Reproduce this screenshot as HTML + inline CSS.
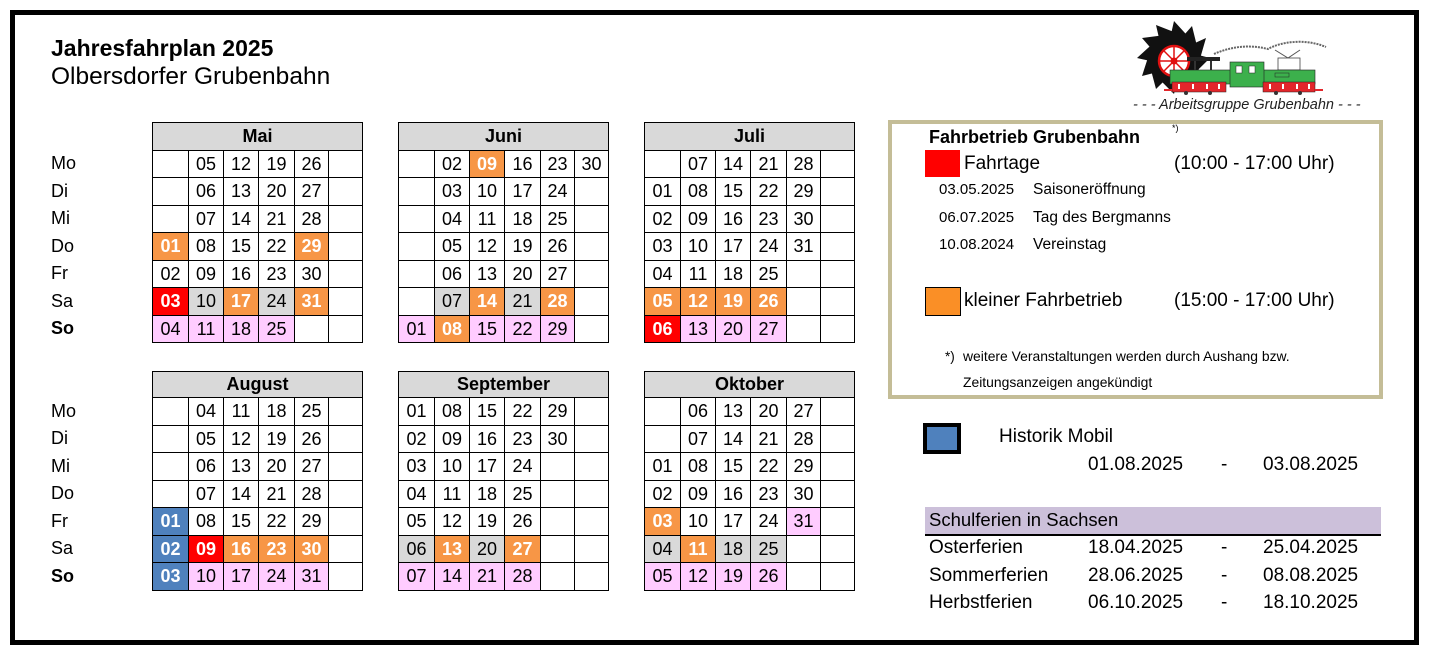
<!DOCTYPE html>
<html><head><meta charset="utf-8">
<style>
*{box-sizing:border-box}
body{margin:0;width:1431px;height:659px;background:#fff;position:relative;overflow:hidden;font-family:"Liberation Sans",sans-serif;color:#000}
.a{position:absolute;line-height:1;white-space:nowrap}
.frame{position:absolute;left:10px;top:10px;width:1409px;height:635px;border:5px solid #000}
.t{position:absolute;display:grid;grid-template-columns:35px 34px 34px 35px 33px 33px;gap:1px;background:#000;padding:1px;width:211px}
.u{top:122px;grid-template-rows:27px 26px 27px 26px 27px 26px 27px 26px}
.d{top:371px;grid-template-rows:25px 27px 26px 27px 26px 27px 26px 27px}
.t>i{font-style:normal;background:#fff;display:flex;align-items:center;justify-content:center;font-size:18px}
.t>i.h{grid-column:1/-1;background:#d9d9d9;font-weight:bold}
.t>i.o{background:#F79646;color:#fff;font-weight:bold}
.t>i.r{background:#FF0000;color:#fff;font-weight:bold}
.t>i.b{background:#4F81BD;color:#fff;font-weight:bold}
.t>i.g{background:#D9D9D9}
.t>i.p{background:#FFCCFF}
.l{position:absolute;left:51px;display:grid;font-size:18px}
.l>i{font-style:normal;display:flex;align-items:center}
.lu{top:150px;grid-template-rows:27px 28px 27px 28px 27px 28px 27px}
.ld{top:397px;grid-template-rows:28px 27px 28px 27px 28px 27px 28px}
</style></head><body>
<div class="frame"></div>

<div class="a" style="left:51px;top:37px;font-size:23px;font-weight:bold">Jahresfahrplan 2025</div>
<div class="a" style="left:51px;top:65px;font-size:24.5px">Olbersdorfer Grubenbahn</div>

<div class="l lu"><i>Mo</i><i>Di</i><i>Mi</i><i>Do</i><i>Fr</i><i>Sa</i><i><b>So</b></i></div>
<div class="l ld"><i>Mo</i><i>Di</i><i>Mi</i><i>Do</i><i>Fr</i><i>Sa</i><i><b>So</b></i></div>

<div class="t u" style="left:152px">
<i class="h">Mai</i>
<i></i><i>05</i><i>12</i><i>19</i><i>26</i><i></i>
<i></i><i>06</i><i>13</i><i>20</i><i>27</i><i></i>
<i></i><i>07</i><i>14</i><i>21</i><i>28</i><i></i>
<i class="o">01</i><i>08</i><i>15</i><i>22</i><i class="o">29</i><i></i>
<i>02</i><i>09</i><i>16</i><i>23</i><i>30</i><i></i>
<i class="r">03</i><i class="g">10</i><i class="o">17</i><i class="g">24</i><i class="o">31</i><i></i>
<i class="p">04</i><i class="p">11</i><i class="p">18</i><i class="p">25</i><i></i><i></i>
</div>

<div class="t u" style="left:398px">
<i class="h">Juni</i>
<i></i><i>02</i><i class="o">09</i><i>16</i><i>23</i><i>30</i>
<i></i><i>03</i><i>10</i><i>17</i><i>24</i><i></i>
<i></i><i>04</i><i>11</i><i>18</i><i>25</i><i></i>
<i></i><i>05</i><i>12</i><i>19</i><i>26</i><i></i>
<i></i><i>06</i><i>13</i><i>20</i><i>27</i><i></i>
<i></i><i class="g">07</i><i class="o">14</i><i class="g">21</i><i class="o">28</i><i></i>
<i class="p">01</i><i class="o">08</i><i class="p">15</i><i class="p">22</i><i class="p">29</i><i></i>
</div>

<div class="t u" style="left:644px">
<i class="h">Juli</i>
<i></i><i>07</i><i>14</i><i>21</i><i>28</i><i></i>
<i>01</i><i>08</i><i>15</i><i>22</i><i>29</i><i></i>
<i>02</i><i>09</i><i>16</i><i>23</i><i>30</i><i></i>
<i>03</i><i>10</i><i>17</i><i>24</i><i>31</i><i></i>
<i>04</i><i>11</i><i>18</i><i>25</i><i></i><i></i>
<i class="o">05</i><i class="o">12</i><i class="o">19</i><i class="o">26</i><i></i><i></i>
<i class="r">06</i><i class="p">13</i><i class="p">20</i><i class="p">27</i><i></i><i></i>
</div>

<div class="t d" style="left:152px">
<i class="h">August</i>
<i></i><i>04</i><i>11</i><i>18</i><i>25</i><i></i>
<i></i><i>05</i><i>12</i><i>19</i><i>26</i><i></i>
<i></i><i>06</i><i>13</i><i>20</i><i>27</i><i></i>
<i></i><i>07</i><i>14</i><i>21</i><i>28</i><i></i>
<i class="b">01</i><i>08</i><i>15</i><i>22</i><i>29</i><i></i>
<i class="b">02</i><i class="r">09</i><i class="o">16</i><i class="o">23</i><i class="o">30</i><i></i>
<i class="b">03</i><i class="p">10</i><i class="p">17</i><i class="p">24</i><i class="p">31</i><i></i>
</div>

<div class="t d" style="left:398px">
<i class="h">September</i>
<i>01</i><i>08</i><i>15</i><i>22</i><i>29</i><i></i>
<i>02</i><i>09</i><i>16</i><i>23</i><i>30</i><i></i>
<i>03</i><i>10</i><i>17</i><i>24</i><i></i><i></i>
<i>04</i><i>11</i><i>18</i><i>25</i><i></i><i></i>
<i>05</i><i>12</i><i>19</i><i>26</i><i></i><i></i>
<i class="g">06</i><i class="o">13</i><i class="g">20</i><i class="o">27</i><i></i><i></i>
<i class="p">07</i><i class="p">14</i><i class="p">21</i><i class="p">28</i><i></i><i></i>
</div>

<div class="t d" style="left:644px">
<i class="h">Oktober</i>
<i></i><i>06</i><i>13</i><i>20</i><i>27</i><i></i>
<i></i><i>07</i><i>14</i><i>21</i><i>28</i><i></i>
<i>01</i><i>08</i><i>15</i><i>22</i><i>29</i><i></i>
<i>02</i><i>09</i><i>16</i><i>23</i><i>30</i><i></i>
<i class="o">03</i><i>10</i><i>17</i><i>24</i><i class="p">31</i><i></i>
<i class="g">04</i><i class="o">11</i><i class="g">18</i><i class="g">25</i><i></i><i></i>
<i class="p">05</i><i class="p">12</i><i class="p">19</i><i class="p">26</i><i></i><i></i>
</div>

<!-- Logo -->
<svg class="a" style="left:1130px;top:20px" width="240" height="80" viewBox="0 0 240 80">
 <g transform="translate(0,-2)">
 <polygon fill="#111" points="80,40 68.5,51.4 75,58 59.5,62.1 62,71 46.3,66.9 44,76 32.6,64.5 26,71 21.9,55.5 12,58 17.1,42.3 7,40 19.5,28.6 12,20 28.5,17.9 26,7 41.7,13.1 44,3 55.4,15.5 62,8 66.1,24.5 76,20 70.9,37.6"/>
 </g>
 <circle cx="44" cy="41" r="15" fill="#fff" stroke="#e01010" stroke-width="2.5"/>
 <g stroke="#e01010" stroke-width="1.5">
  <line x1="29" y1="41" x2="59" y2="41"/><line x1="44" y1="26" x2="44" y2="56"/>
  <line x1="33.4" y1="30.4" x2="54.6" y2="51.6"/><line x1="33.4" y1="51.6" x2="54.6" y2="30.4"/>
 </g>
 <circle cx="44" cy="41" r="3.5" fill="#e01010"/>
 <path d="M84,34 C100,27 118,24 138,29 C150,22 175,18 196,27" fill="none" stroke="#666" stroke-width="2" stroke-dasharray="2 1"/>
 <path d="M145,30 L158,38 L170,30" fill="none" stroke="#555" stroke-width="1"/>
 <rect x="148" y="38" width="22" height="12" fill="#fff" stroke="#444" stroke-width="0.8"/>
 <rect x="57" y="37" width="33" height="4" fill="#222"/>
 <rect x="64" y="41" width="2" height="9" fill="#333"/>
 <rect x="80" y="41" width="2" height="9" fill="#333"/>
 <rect x="40" y="50" width="62" height="14" fill="#3cb04c" stroke="#222" stroke-width="0.6"/>
 <rect x="133" y="50" width="52" height="14" fill="#3cb04c" stroke="#222" stroke-width="0.6"/>
 <rect x="100" y="42" width="34" height="25" fill="#3cb04c" stroke="#222" stroke-width="0.6"/>
 <rect x="106" y="46" width="6" height="7" fill="#fff" stroke="#222" stroke-width="0.5"/>
 <rect x="119" y="46" width="6" height="7" fill="#fff" stroke="#222" stroke-width="0.5"/>
 <rect x="145" y="53" width="14" height="4" fill="#3cb04c" stroke="#222" stroke-width="0.5"/>
 <rect x="42" y="62" width="54" height="10" fill="#e3262b" stroke="#222" stroke-width="0.5"/>
 <rect x="133" y="62" width="52" height="10" fill="#e3262b" stroke="#222" stroke-width="0.5"/>
 <g fill="#fff"><rect x="48" y="64" width="2" height="5"/><rect x="62" y="64" width="2" height="5"/><rect x="76" y="64" width="2" height="5"/><rect x="88" y="64" width="2" height="5"/><rect x="139" y="64" width="2" height="5"/><rect x="152" y="64" width="2" height="5"/><rect x="166" y="64" width="2" height="5"/><rect x="178" y="64" width="2" height="5"/></g>
 <g fill="#333"><circle cx="56" cy="73" r="2"/><circle cx="80" cy="73" r="2"/><circle cx="146" cy="73" r="2"/><circle cx="170" cy="73" r="2"/></g>
 <line x1="34" y1="70" x2="42" y2="70" stroke="#e3262b" stroke-width="2"/>
 <line x1="185" y1="70" x2="193" y2="70" stroke="#e3262b" stroke-width="2"/>
</svg>
<div class="a" style="left:1133px;top:98px;font-size:14.5px;font-style:italic;color:#222">- - - Arbeitsgruppe Grubenbahn - - -</div>

<!-- Legend box -->
<div class="a" style="left:888px;top:120px;width:495px;height:279px;border:4px solid #C4BD97"></div>
<div class="a" style="left:929px;top:128px;font-size:18px;font-weight:bold">Fahrbetrieb Grubenbahn</div>
<div class="a" style="left:1172px;top:124px;font-size:9px">*)</div>
<div class="a" style="left:925px;top:150px;width:35px;height:27px;background:#FF0000"></div>
<div class="a" style="left:964px;top:154px;font-size:19px">Fahrtage</div>
<div class="a" style="left:1174px;top:154px;font-size:19px">(10:00 - 17:00 Uhr)</div>
<div class="a" style="left:939px;top:182px;font-size:15px">03.05.2025</div>
<div class="a" style="left:1033px;top:182px;font-size:15.5px">Saisoneröffnung</div>
<div class="a" style="left:939px;top:210px;font-size:15px">06.07.2025</div>
<div class="a" style="left:1033px;top:210px;font-size:15.5px">Tag des Bergmanns</div>
<div class="a" style="left:939px;top:237px;font-size:15px">10.08.2024</div>
<div class="a" style="left:1033px;top:237px;font-size:15.5px">Vereinstag</div>
<div class="a" style="left:925px;top:287px;width:36px;height:29px;background:#FA8F26;border:1px solid #000"></div>
<div class="a" style="left:964px;top:291px;font-size:19px">kleiner Fahrbetrieb</div>
<div class="a" style="left:1174px;top:291px;font-size:19px">(15:00 - 17:00 Uhr)</div>
<div class="a" style="left:945px;top:350px;font-size:13.5px">*)</div>
<div class="a" style="left:963px;top:350px;font-size:13.9px">weitere Veranstaltungen werden durch Aushang bzw.</div>
<div class="a" style="left:963px;top:376px;font-size:13.9px">Zeitungsanzeigen angekündigt</div>

<!-- Historik Mobil -->
<div class="a" style="left:923px;top:423px;width:38px;height:31px;background:#4F81BD;border:4px solid #000"></div>
<div class="a" style="left:999px;top:427px;font-size:19px">Historik Mobil</div>
<div class="a" style="left:1088px;top:455px;font-size:19px">01.08.2025</div>
<div class="a" style="left:1221px;top:455px;font-size:19px">-</div>
<div class="a" style="left:1263px;top:455px;font-size:19px">03.08.2025</div>

<!-- Schulferien -->
<div class="a" style="left:925px;top:507px;width:456px;height:27px;background:#CCC0DA"></div>
<div class="a" style="left:925px;top:534px;width:456px;height:2px;background:#000"></div>
<div class="a" style="left:929px;top:511px;font-size:18.5px">Schulferien in Sachsen</div>
<div class="a" style="left:929px;top:538px;font-size:19px">Osterferien</div>
<div class="a" style="left:1088px;top:538px;font-size:19px">18.04.2025</div>
<div class="a" style="left:1221px;top:538px;font-size:19px">-</div>
<div class="a" style="left:1263px;top:538px;font-size:19px">25.04.2025</div>
<div class="a" style="left:929px;top:566px;font-size:19px">Sommerferien</div>
<div class="a" style="left:1088px;top:566px;font-size:19px">28.06.2025</div>
<div class="a" style="left:1221px;top:566px;font-size:19px">-</div>
<div class="a" style="left:1263px;top:566px;font-size:19px">08.08.2025</div>
<div class="a" style="left:929px;top:593px;font-size:19px">Herbstferien</div>
<div class="a" style="left:1088px;top:593px;font-size:19px">06.10.2025</div>
<div class="a" style="left:1221px;top:593px;font-size:19px">-</div>
<div class="a" style="left:1263px;top:593px;font-size:19px">18.10.2025</div>
</body></html>
